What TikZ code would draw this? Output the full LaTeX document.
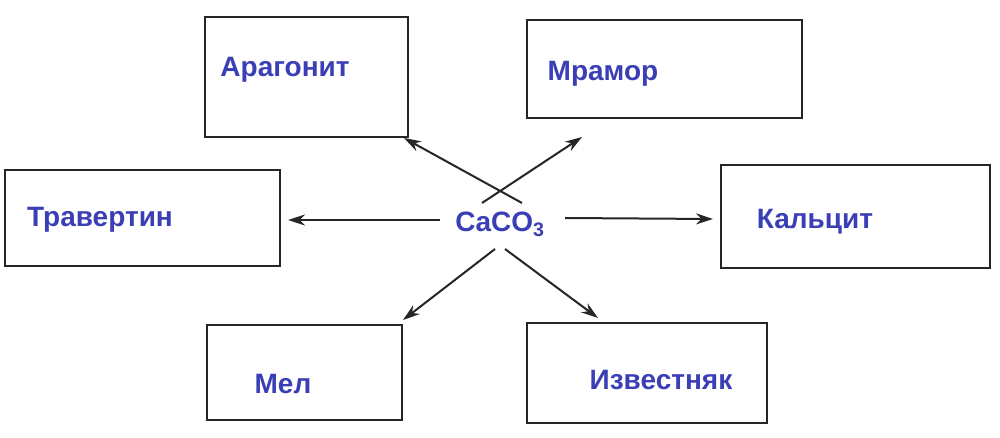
\documentclass[tikz,border=0pt]{standalone}
\usepackage{fontspec}
\setmainfont{Liberation Sans}
\usetikzlibrary{arrows.meta}
\definecolor{lbl}{HTML}{3B3FB5}
\begin{document}
\begin{tikzpicture}[x=1pt,y=-1pt,
  box/.style={draw=black!85,line width=2pt},
  lab/.style={text=lbl,font=\bfseries\fontsize{28}{30}\selectfont},
  arr/.style={draw=black!85,line width=2pt,-{Stealth[length=17pt,width=11pt]}}]
\fill[white] (0,0) rectangle (1000,438);
\draw[box] (205,17) rectangle (408,137);
\draw[box] (527,20) rectangle (802,118);
\draw[box] (5,170) rectangle (280,266);
\draw[box] (721,165) rectangle (990,268);
\draw[box] (207,325) rectangle (402,420);
\draw[box] (527,323) rectangle (767,423);
\node[lab] (a) at (285,70) {Арагонит};
\node[lab] (m) at (603,74) {Мрамор};
\node[lab] (t) at (100,220) {Травертин};
\node[lab] (k) at (815,222) {Кальцит};
\node[lab] (me) at (283,384) {Мел};
\node[lab] (i) at (661,380) {Известняк};
\node[lab] (c) at (500,224) {CaCO\textsubscript{3}};
\coordinate (ul) at (404,138); \coordinate (ur) at (582,137);
\coordinate (ll) at (403,320); \coordinate (lr) at (598,318);
\coordinate (l) at (288,220); \coordinate (r) at (713,219);
\draw[arr] (522,203) -- (ul);
\draw[arr] (482,203) -- (ur);
\draw[arr] (495,249) -- (ll);
\draw[arr] (505,249) -- (lr);
\draw[arr] (440,220) -- (l);
\draw[arr] (565,218) -- (r);
\end{tikzpicture}
\end{document}
